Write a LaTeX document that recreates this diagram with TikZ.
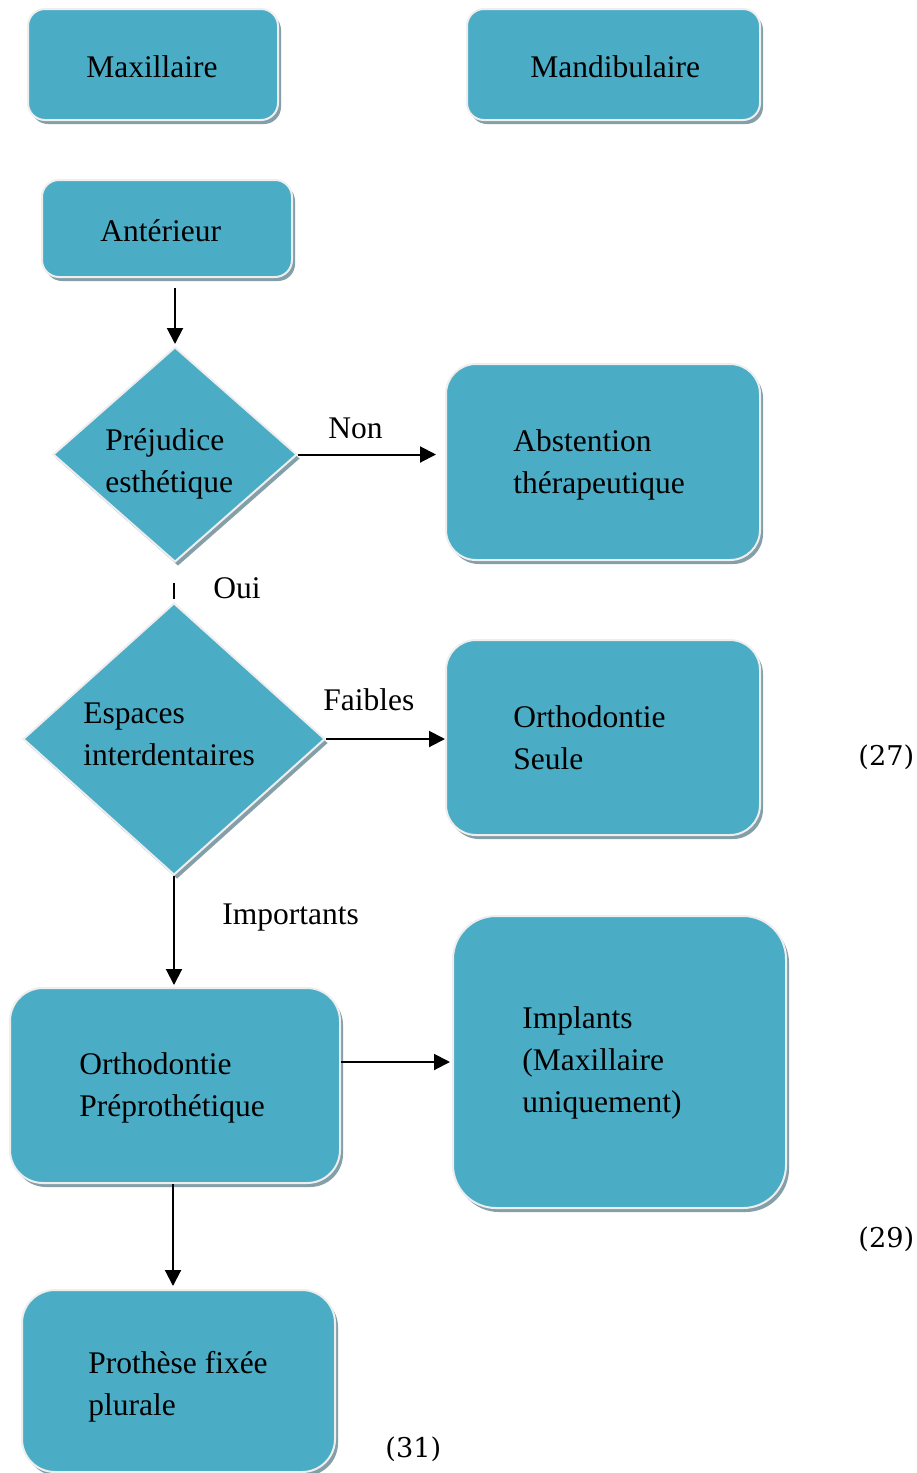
\documentclass[tikz,border=0pt]{standalone}
\usepackage{fontspec}
\setmainfont{Liberation Serif}
\newfontfamily\numfont{DejaVu Serif}
\usetikzlibrary{shapes.geometric,shadows,arrows.meta}
\definecolor{boxblue}{HTML}{4BACC6}
\definecolor{shadowc}{HTML}{849FA8}
\definecolor{rimc}{HTML}{EEEEEE}
\begin{document}
\begin{tikzpicture}[x=0.5pt,y=-0.5pt,
  shapebase/.style={fill=boxblue, draw=rimc, line width=1pt, inner sep=0pt,
    drop shadow={shadow xshift=1.5pt,shadow yshift=-2pt,fill=shadowc,opacity=1}},
  box/.style={shapebase, rectangle, rounded corners=#1},
  dia/.style={shapebase, diamond},
  txt/.style={anchor=base west, align=left, inner sep=0pt, font=\fontsize{15.75pt}{21pt}\selectfont},
  ref/.style={anchor=base west, inner sep=0pt, font=\numfont\fontsize{13.6pt}{16pt}\selectfont},
  arr/.style={-{Triangle[length=8pt,width=8pt]}, line width=1pt},
  seg/.style={line width=1pt}]
\useasboundingbox (0,0) rectangle (916,1473);

% boxes (multi-line texts are anchored at the baseline of their last line)
\node[box=8.5pt, minimum width=125pt, minimum height=55.5pt] (max) at (153,64.5) {};
\node[txt] (tmax) at (86,77) {Maxillaire};
\node[box=8.5pt, minimum width=146.5pt, minimum height=55.5pt] (mand) at (613.5,64.5) {};
\node[txt] (tmand) at (530,77) {Mandibulaire};
\node[box=8.5pt, minimum width=125pt, minimum height=48.5pt] (ant) at (167,228.5) {};
\node[txt] (tant) at (100,241) {Antérieur};

\node[dia, minimum width=122pt, minimum height=107.5pt] (d1) at (175,454.5) {};
\node[txt] (td1) at (105,492) {Préjudice\\esthétique};

\node[box=15pt, minimum width=157pt, minimum height=98pt] (abst) at (603,462) {};
\node[txt] (tabst) at (513,493) {Abstention\\thérapeutique};

\node[dia, minimum width=151pt, minimum height=136pt] (d2) at (174,739) {};
\node[txt] (td2) at (83,765) {Espaces\\interdentaires};

\node[box=15pt, minimum width=157pt, minimum height=97.5pt] (os) at (603,737.5) {};
\node[txt] (tos) at (513,769) {Orthodontie\\Seule};

\node[box=16.5pt, minimum width=165pt, minimum height=97.5pt] (op) at (175,1085.5) {};
\node[txt] (top) at (79,1116) {Orthodontie\\Préprothétique};

\node[box=21.5pt, minimum width=166.5pt, minimum height=146pt] (impl) at (619.5,1062) {};
\node[txt] (timpl) at (522,1112) {Implants\\(Maxillaire\\uniquement)};

\node[box=16.5pt, minimum width=156.5pt, minimum height=91pt] (proth) at (178.5,1381) {};
\node[txt] (tproth) at (88,1415) {Prothèse fixée\\plurale};

% connectors
\draw[arr] ([yshift=-5pt]ant.south -| d1.north) -- ([yshift=1pt]d1.north);
\draw[arr] (d1.east) -- ([xshift=-4.5pt]d1.east -| abst.west);
\draw[seg] ([yshift=-10pt]d1.south -| d2.north) -- ([yshift=1.5pt]d2.north);
\draw[arr] (d2.east) -- (d2.east -| os.west);
\draw[arr] (d2.south) -- ([yshift=1pt]d2.south |- op.north);
\draw[arr] (op.east |- impl.west) -- ([xshift=-1pt]impl.west);
\draw[arr] ([xshift=-1pt]op.south) -- ([xshift=-1pt,yshift=1.5pt]op.south |- proth.north);

% labels
\node[txt] (lnon) at (328,438) {Non};
\node[txt] (loui) at (213,598) {Oui};
\node[txt] (lfai) at (323,710) {Faibles};
\node[txt] (limp) at (222,924) {Importants};

\node[ref] (r27) at (858,765) {(27)};
\node[ref] (r29) at (858,1247) {(29)};
\node[ref] (r31) at (385,1457) {(31)};
\end{tikzpicture}
\end{document}
